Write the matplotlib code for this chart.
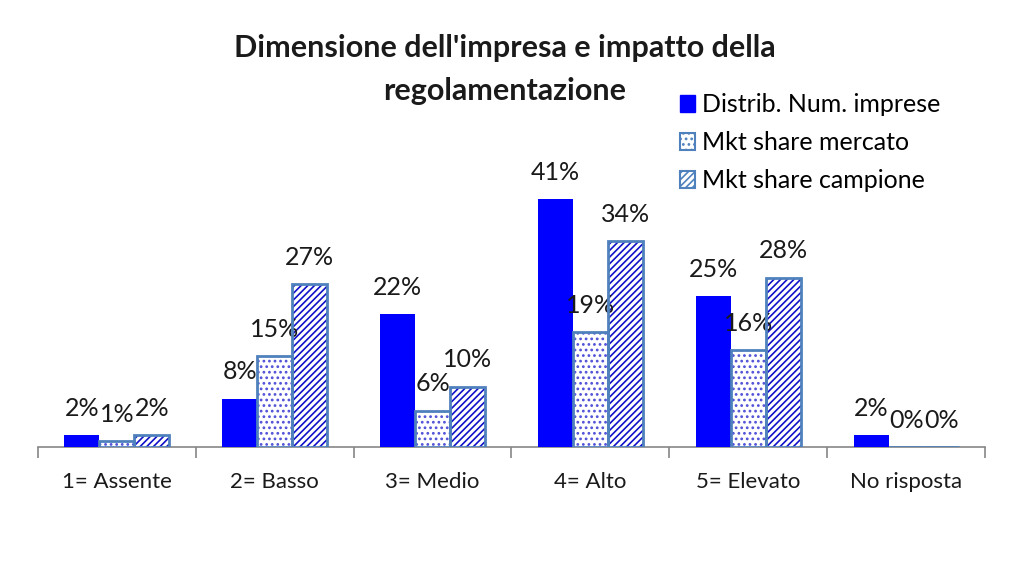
import matplotlib
matplotlib.use("Agg")
import matplotlib.pyplot as plt
import matplotlib.patches as mpatches
import numpy as np

# --- data --- #
categories = ["1= Assente", "2= Basso", "3= Medio", "4= Alto", "5= Elevato", "No risposta"]
series_names = ["Distrib. Num. imprese", "Mkt share mercato", "Mkt share campione"]
distrib = [2, 8, 22, 41, 25, 2]
mercato = [1, 15, 6, 19, 16, 0]
campione = [2, 27, 10, 34, 28, 0]
title_lines = ["Dimensione dell'impresa e impatto della", "regolamentazione"]

plt.rcParams['font.family'] = ['Lato', 'DejaVu Sans']
plt.rcParams['hatch.linewidth'] = 1.2

fig = plt.figure(figsize=(10.14, 5.73), dpi=100)
ax = fig.add_axes([38 / 1014, 1 - 447 / 573, (985 - 38) / 1014, (447 - 175) / 573])

x = np.arange(len(categories))
w = 0.222
edge = "#4F81BD"

# --- bars --- #
ax.bar(x - w, distrib, w, color="#0000FF", linewidth=0, zorder=3)
ax.bar(x, mercato, w, color="white", hatch="...", edgecolor="#5050D8", linewidth=0, zorder=3)
ax.bar(x, mercato, w, fill=False, edgecolor=edge, linewidth=2, zorder=4)
ax.bar(x + w, campione, w, color="white", hatch="/////", edgecolor="#1010C8", linewidth=0, zorder=3)
ax.bar(x + w, campione, w, fill=False, edgecolor=edge, linewidth=2, zorder=4)

# --- data labels --- #
for xs, vals in [(x - w, distrib), (x, mercato), (x + w, campione)]:
	for xi, v in zip(xs, vals):
		ax.annotate("%d%%" % v, (xi, v), xytext=(0, 11), textcoords="offset points",
			ha="center", va="bottom", fontsize=18, color="#1a1a1a")

# --- legend (proxy patches) --- #
h1 = mpatches.Patch(facecolor="#0000FF", edgecolor="#0000FF")
h2 = mpatches.Patch(facecolor="white", hatch="...", edgecolor=edge, linewidth=1.5)
h3 = mpatches.Patch(facecolor="white", hatch="/////", edgecolor=edge, linewidth=1.5)
fig.legend([h1, h2, h3], series_names, loc="upper left", bbox_to_anchor=(680 / 1014, 1 - 93 / 573),
	frameon=False, fontsize=18, handlelength=0.6, handleheight=0.7, handletextpad=0.3,
	labelspacing=0.6, borderaxespad=0, borderpad=0)

# --- title, one text per line --- #
fig.text(505 / 1014, 1 - 48 / 573, title_lines[0], ha="center", va="center", fontsize=22,
	fontweight="bold", color="#1a1a1a")
fig.text(505 / 1014, 1 - 91 / 573, title_lines[1], ha="center", va="center", fontsize=22,
	fontweight="bold", color="#1a1a1a")

# --- axes styling --- #
ax.set_xlim(-0.5, len(categories) - 0.5)
ax.set_ylim(0, 45)
ax.set_yticks([])
for s in ["top", "right", "left"]:
	ax.spines[s].set_visible(False)
ax.spines["bottom"].set_color("#868686")
ax.spines["bottom"].set_linewidth(1.2)

ax.set_xticks(x)
ax.set_xticklabels(categories, fontsize=16, color="#1a1a1a")
ax.tick_params(axis="x", which="major", length=0, pad=18)
ax.set_xticks(np.arange(-0.5, len(categories), 1), minor=True)
ax.tick_params(axis="x", which="minor", length=8, color="#868686", width=1.2, direction="out")

fig.savefig("out.png", dpi=100, facecolor="white")
